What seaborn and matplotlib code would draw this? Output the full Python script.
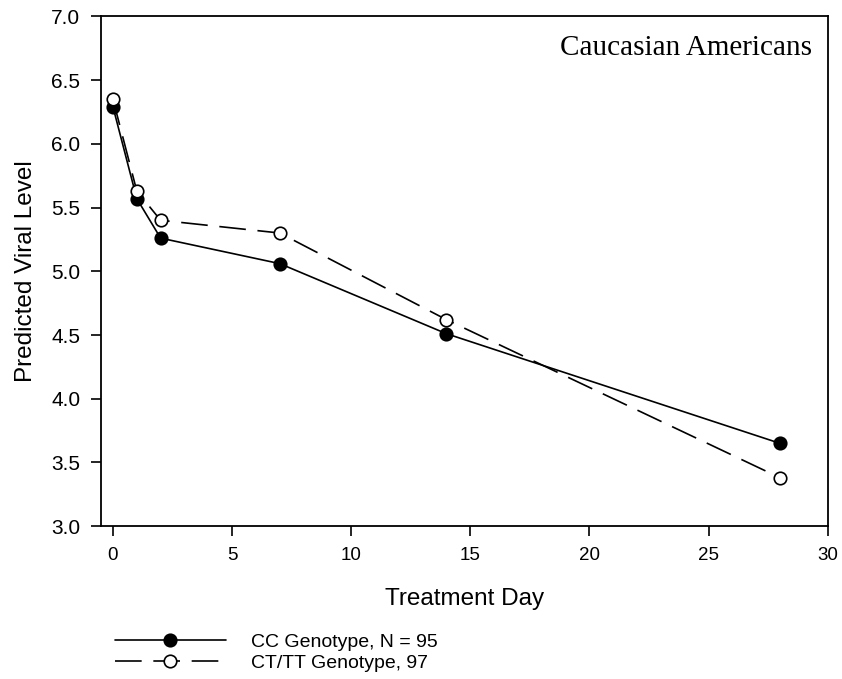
import pandas as pd
import seaborn as sns
import matplotlib.pyplot as plt

# valores
dias = [0, 1, 2, 7, 14, 28]
cc_genotipo = [6.29, 5.57, 5.26, 5.06, 4.51, 3.65]
ct_tt_genotipo = [6.35, 5.63, 5.40, 5.30, 4.62, 3.38]
rotulos = ['CC Genotype, N = 95', 'CT/TT Genotype, 97']

df = pd.DataFrame({
    'Treatment Day': dias * 2,
    'Predicted Viral Level': cc_genotipo + ct_tt_genotipo,
    'grupo': [rotulos[0]] * len(dias) + [rotulos[1]] * len(dias),
})

sns.set_style('ticks')
plt.rcParams['font.family'] = ['Liberation Sans', 'DejaVu Sans']
plt.rcParams['text.color'] = 'black'
plt.rcParams['axes.labelcolor'] = 'black'

fig = plt.figure(figsize=(8.42, 6.79), dpi=100)
ax = fig.add_axes([0.12, 0.225, 0.863, 0.751])

sns.lineplot(ax=ax, data=df, x='Treatment Day', y='Predicted Viral Level',
             hue='grupo', style='grupo',
             palette=['black', 'black'],
             dashes={rotulos[0]: '', rotulos[1]: (16, 7)},
             markers={rotulos[0]: 'o', rotulos[1]: 'o'},
             markersize=9, linewidth=1.2, markeredgecolor='black',
             markeredgewidth=1.2, legend=False)

# segunda série com marcadores vazios
ax.lines[1].set_markerfacecolor('white')

ax.set_xlim(-0.5, 30)
ax.set_ylim(3.0, 7.0)
ax.set_xticks(range(0, 31, 5))
ax.set_yticks([3.0, 3.5, 4.0, 4.5, 5.0, 5.5, 6.0, 6.5, 7.0])
ax.set_yticklabels([f'{v:.1f}' for v in ax.get_yticks()])
ax.tick_params(direction='out', length=7, width=1.2, colors='black', pad=8)
ax.tick_params(axis='x', labelsize=13.5)
ax.tick_params(axis='y', labelsize=15)
for s in ax.spines.values():
    s.set_linewidth(1.3)
    s.set_color('black')
ax.set_xlabel('Treatment Day', fontsize=17.5, labelpad=17)
ax.set_ylabel('Predicted Viral Level', fontsize=17.5, labelpad=10)

ax.text(0.978, 0.937, 'Caucasian Americans', transform=ax.transAxes,
        ha='right', va='center', fontsize=21, family='Liberation Serif')

handles = ax.lines[:2]
leg = fig.legend(handles, rotulos, loc='upper left', bbox_to_anchor=(0.127, 0.079),
                 frameon=False, fontsize=14, handlelength=5.7, handletextpad=1.3,
                 labelspacing=0.2, borderaxespad=0)

plt.savefig('out.png', dpi=100)
